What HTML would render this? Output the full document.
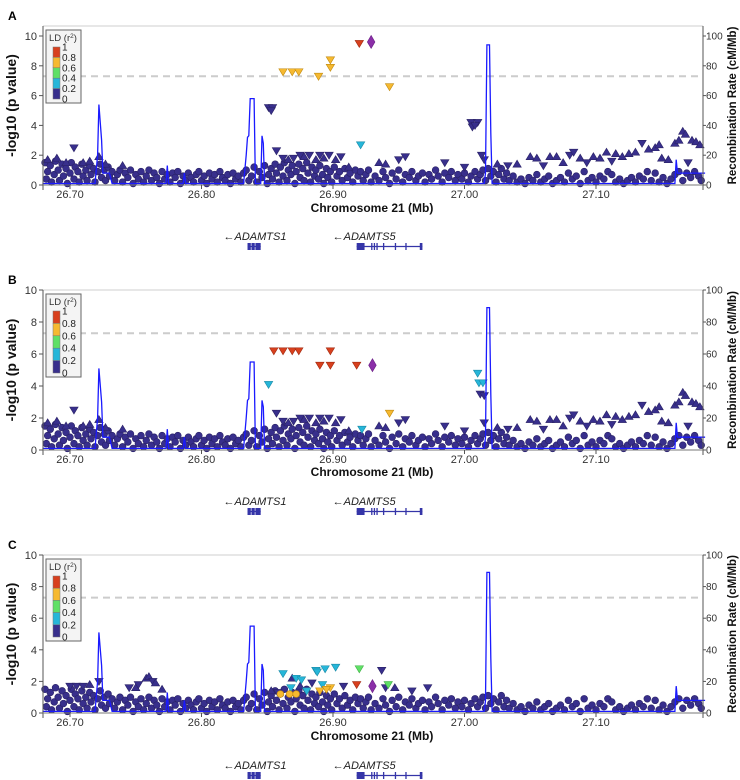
<!DOCTYPE html>
<html><head><meta charset="utf-8">
<style>
html,body{margin:0;padding:0;background:#fff;}
svg{display:block;font-family:"Liberation Sans",Arial,sans-serif;}
</style></head>
<body>
<svg id="fig" width="740" height="780" viewBox="0 0 740 780" xmlns="http://www.w3.org/2000/svg"></svg>
<script>
// ---------- DATA ----------
const xTicks = [26.70, 26.80, 26.90, 27.00, 27.10];
const xTickLabels = ["26.70", "26.80", "26.90", "27.00", "27.10"];
const yTicks = [0, 2, 4, 6, 8, 10];
const rTicks = [0, 20, 40, 60, 80, 100];
const ldLabels = ["1", "0.8", "0.6", "0.4", "0.2", "0"];
const panelLetters = ["A", "B", "C"];

// background circles [pos, -log10p]
const bgCircles = [[26.681,1.5],[26.682,0.4],[26.683,0.9],[26.685,1.3],[26.686,0.2],[26.688,0.7],[26.689,1.6],[26.691,1.0],[26.692,0.3],[26.694,1.4],[26.695,0.6],[26.697,1.1],[26.698,0.1],[26.700,0.8],[26.701,1.5],[26.703,0.4],[26.704,1.2],[26.706,0.9],[26.707,0.2],[26.709,1.4],[26.710,0.6],[26.712,1.0],[26.713,0.3],[26.715,1.3],[26.716,0.7],[26.718,1.1],[26.719,0.2],[26.721,0.9],[26.723,1.4],[26.724,0.5],[26.726,1.0],[26.727,0.3],[26.729,1.2],[26.730,0.6],
[26.732,0.9],[26.734,0.3],[26.736,0.7],[26.738,1.0],[26.740,0.2],[26.742,0.8],[26.744,0.5],[26.746,1.0],[26.748,0.1],[26.750,0.7],[26.752,0.4],[26.754,0.9],[26.756,0.2],[26.758,0.6],[26.760,1.0],[26.762,0.3],[26.764,0.8],[26.766,0.5],[26.768,0.1],[26.770,0.9],[26.772,0.4],[26.774,0.7],[26.776,0.2],[26.778,0.8],[26.780,0.5],[26.782,0.9],[26.784,0.1],[26.786,0.6],[26.788,0.3],[26.790,0.8],[26.792,0.5],[26.794,0.2],[26.796,0.7],[26.798,0.9],[26.800,0.3],[26.802,0.6],[26.804,0.1],[26.806,0.8],[26.808,0.4],[26.810,0.7],[26.812,0.2],[26.814,0.9],[26.816,0.5],[26.818,0.3],[26.820,0.7],[26.822,0.1],[26.824,0.8],[26.826,0.4],[26.828,0.6],[26.830,0.2],
[26.832,0.8],[26.834,1.0],[26.836,0.3],[26.838,0.6],[26.840,1.2],[26.842,0.2],[26.844,0.9],[26.846,0.5],[26.848,1.3],[26.850,0.1],[26.851,0.7],[26.853,1.1],[26.854,0.4],[26.856,1.4],[26.857,0.8],[26.859,0.2],[26.860,1.2],[26.862,0.6],[26.863,1.5],[26.865,0.3],[26.866,1.0],[26.868,0.7],[26.869,1.3],[26.871,0.1],[26.872,0.9],[26.874,1.4],[26.875,0.5],[26.877,1.1],[26.878,0.3],[26.880,1.5],[26.881,0.8],[26.883,0.2],[26.884,1.2],[26.886,0.6],[26.887,1.0],[26.889,0.4],[26.890,1.3],[26.892,0.7],[26.893,0.1],[26.895,1.1],[26.896,0.5],[26.898,0.9],[26.899,0.2],[26.901,1.2],[26.903,0.6],[26.905,0.9],[26.907,0.3],[26.909,1.1],[26.911,0.5],[26.913,0.8],[26.915,0.2],[26.917,1.0],[26.919,0.6],[26.921,0.9],[26.923,0.3],[26.925,0.7],[26.927,1.0],[26.929,0.2],
[26.932,0.6],[26.935,0.3],[26.938,0.9],[26.940,0.5],[26.943,0.1],[26.945,0.8],[26.948,0.4],[26.950,1.0],[26.953,0.2],[26.955,0.7],[26.958,0.5],[26.960,0.9],[26.963,0.3],[26.965,0.6],[26.968,0.8],[26.970,0.2],[26.973,0.7],[26.975,0.4],[26.978,1.0],[26.980,0.6],[26.983,0.2],[26.985,0.8],[26.988,0.5],[26.990,0.9],[26.993,0.3],[26.995,0.7],[26.998,0.4],[27.000,0.8],[27.003,0.2],[27.005,0.6],[27.008,0.9],[27.010,0.4],[27.012,0.7],[27.014,1.0],[27.016,0.3],[27.018,1.1],[27.020,0.6],[27.022,0.9],[27.024,0.2],[27.026,0.7],[27.028,1.1],[27.030,0.4],[27.032,0.8],[27.034,0.3],[27.037,0.6],[27.040,0.2],[27.043,0.4],[27.046,0.1],[27.049,0.5],[27.052,0.3],[27.055,0.7],[27.058,0.2],[27.061,0.4],[27.064,0.6],[27.067,0.1],[27.070,0.3],[27.073,0.5],[27.076,0.2],[27.079,0.8],[27.082,0.4],[27.085,0.6],[27.088,0.1],[27.091,0.9],[27.094,0.3],[27.097,0.5],[27.100,0.2],[27.103,0.6],[27.106,0.4],[27.109,0.9],[27.112,0.7],[27.115,0.2],[27.118,0.4],[27.121,0.1],[27.124,0.3],[27.127,0.5],[27.130,0.2],[27.133,0.6],[27.136,0.4],[27.139,0.9],[27.142,0.3],[27.145,0.8],[27.148,0.2],[27.151,0.5],[27.154,0.1],[27.157,0.4],[27.160,0.7],[27.163,0.9],[27.166,0.3],[27.169,0.8],[27.172,0.5],[27.175,0.9],[27.178,0.6],[27.180,0.3]];

// background triangles for panels A/B [pos, p, dir(1 up, -1 down)]
const triAB = [[26.683,1.7,1],[26.690,1.8,1],[26.697,1.5,1],[26.703,2.5,-1],[26.710,1.5,1],[26.715,1.6,1],[26.722,1.9,1],[26.727,1.4,1],[26.740,1.3,1],
[26.857,2.3,-1],[26.862,1.8,-1],[26.866,1.7,1],[26.870,1.8,-1],[26.875,2.0,-1],[26.878,1.9,1],[26.882,2.0,-1],[26.887,1.7,1],[26.890,2.0,-1],[26.893,1.8,1],[26.897,2.0,-1],[26.902,1.7,1],[26.906,1.9,-1],[26.912,1.2,1],
[26.935,1.5,1],[26.940,1.4,1],[26.950,1.7,-1],[26.955,1.9,-1],[26.985,1.5,-1],[27.000,1.2,-1],[27.015,1.7,-1],[27.025,1.4,1],[27.033,1.3,-1],[27.040,1.4,1],[27.050,1.9,1],[27.055,1.8,1],[27.060,1.3,-1],[27.065,1.9,1],[27.070,1.9,1],[27.075,1.5,1],[27.080,2.0,-1],[27.083,2.2,-1],[27.088,1.8,1],[27.093,1.5,-1],[27.098,1.9,1],[27.103,1.8,1],[27.108,2.2,1],[27.112,1.6,-1],[27.115,2.1,1],[27.120,1.9,1],[27.125,2.1,1],[27.130,2.2,1],[27.135,2.8,-1],[27.140,2.4,1],[27.145,2.5,1],[27.148,2.7,1],[27.150,1.8,1],[27.155,1.7,1],[27.160,2.8,1],[27.163,3.0,1],[27.166,3.6,1],[27.168,3.4,1],[27.170,1.5,-1],[27.173,3.0,1],[27.176,2.9,1],[27.179,2.7,1]];

const triC = [[26.700,1.7,-1],[26.705,1.7,-1],[26.710,1.7,-1],[26.715,1.8,1],[26.722,2.0,-1],[26.745,1.6,-1],[26.750,1.6,1],[26.752,1.8,-1],[26.758,2.2,1],[26.760,2.3,1],[26.763,2.0,-1],[26.765,1.9,1],[26.770,1.5,1],[26.853,1.4,1],[26.858,1.3,-1],
[26.908,1.7,-1],[26.937,2.7,-1],[26.940,1.6,-1],[26.947,1.6,1],[26.960,1.4,-1],[26.972,1.6,-1],[26.884,1.9,-1],[26.869,2.2,1],[26.875,1.7,1]];

// LD-coloured points [pos, p, shape, ldClass]
const hiA = [[26.851,5.2,"d",0],[26.854,5.2,"d",0],[26.853,5.0,"d",0],[27.005,4.2,"d",0],[27.010,4.2,"d",0],[27.006,3.9,"d",0],[27.008,4.0,"d",0],[27.013,2.0,"d",0],
[26.862,7.6,"d",3],[26.869,7.6,"d",3],[26.874,7.6,"d",3],[26.889,7.3,"d",3],[26.898,8.4,"d",3],[26.898,7.9,"d",3],[26.943,6.6,"d",3],[26.921,2.7,"d",1],[26.920,9.5,"d",4],[26.929,9.6,"x",5]];
const hiB = [[27.012,3.5,"d",0],[27.015,3.4,"d",0],[26.855,6.2,"d",4],[26.862,6.2,"d",4],[26.869,6.2,"d",4],[26.874,6.2,"d",4],[26.898,6.2,"d",4],[26.890,5.3,"d",4],[26.898,5.3,"d",4],[26.918,5.3,"d",4],
[26.851,4.1,"d",1],[27.010,4.8,"d",1],[27.011,4.2,"d",1],[27.014,4.2,"d",1],[26.922,1.3,"d",1],[26.943,2.3,"d",3],[26.930,5.3,"x",5]];
const hiC = [[26.862,2.5,"d",1],[26.872,2.2,"d",1],[26.876,2.1,"d",1],[26.887,2.7,"d",1],[26.888,2.6,"d",1],[26.894,2.8,"d",1],[26.902,2.9,"d",1],[26.868,1.6,"d",1],[26.880,1.4,"d",1],[26.892,1.8,"d",1],
[26.860,1.2,"c",3],[26.867,1.2,"c",3],[26.872,1.2,"c",3],[26.890,1.4,"d",3],[26.898,1.6,"d",3],[26.895,1.5,"d",3],[26.920,2.8,"d",2],[26.942,1.8,"d",2],[26.918,1.8,"d",4],[26.930,1.7,"x",5]];

// recombination rate (cM/Mb)
const recPos = [26.679,26.719,26.721,26.722,26.724,26.725,26.730,26.732,26.773,26.774,26.775,26.786,26.787,26.788,26.832,26.834,26.835,26.836,26.837,26.840,26.841,26.845,26.846,26.847,26.848,27.015,27.016,27.017,27.019,27.020,27.021,27.160,27.161,27.162,27.183];
const recRateA = [1,1,20,54,30,8,8,1,1,13,1,1,8,1,1,20,32,33,58,58,1,1,33,28,1,1,8,94,94,35,1,1,17,8,8];
const recRateB = [1,1,20,51,30,8,8,1,1,13,1,1,8,1,1,20,31,32,55,55,1,1,31,27,1,1,8,89,89,35,1,1,17,8,8];

const genes = [{name:"ADAMTS1", start:26.835, end:26.845, exons:[[26.835,26.8375],[26.838,26.8405],[26.841,26.845]]},
               {name:"ADAMTS5", start:26.918, end:26.968, exons:[[26.918,26.924],[26.929,26.930],[26.931,26.932],[26.933,26.934],[26.938,26.939],[26.947,26.948],[26.955,26.956],[26.966,26.968]]}];

// ---------- LAYOUT ----------
const panels = [
 {top:26, y10:36, y0:185, hi:hiA, tri:triAB, rec:recRateA, legH:73, xlabY:212, geneY:240},
 {top:290, y10:290, y0:450, hi:hiB, tri:triAB, rec:recRateB, legH:83, xlabY:476, geneY:505},
 {top:555, y10:555, y0:713, hi:hiC, tri:triC, rec:recRateB, legH:82, xlabY:740, geneY:769}
];
const X0=43, X1=703;
function xs(v){ return 70 + (v-26.70)*1315; }
const ldColors = ["#382f8c","#26b6d9","#5fe066","#f6b930","#d8401e","#8b2fa8"];
const ldStroke = ["#2a2266","#1a8aa6","#3fb045","#c08a10","#a02a10","#6a1f85"];
const NS="http://www.w3.org/2000/svg";
const svg=document.getElementById('fig');
function mk(tag, attrs, parent){ const e=document.createElementNS(NS,tag); for(const k in attrs) e.setAttribute(k,attrs[k]); (parent||svg).appendChild(e); return e; }

function marker(g, x, y, shape, ci, name){
  let e;
  if(shape==="c"){ e=mk('circle',{cx:x,cy:y,r:3.4,fill:ldColors[ci],stroke:ldStroke[ci],'stroke-width':0.6},g); }
  else if(shape==="u"){ e=mk('path',{d:`M${x},${y-4}L${x+4.2},${y+3}L${x-4.2},${y+3}Z`,fill:ldColors[ci],stroke:ldStroke[ci],'stroke-width':0.6},g); }
  else if(shape==="d"){ e=mk('path',{d:`M${x-4.2},${y-3}L${x+4.2},${y-3}L${x},${y+4}Z`,fill:ldColors[ci],stroke:ldStroke[ci],'stroke-width':0.6},g); }
  else { e=mk('path',{d:`M${x},${y-6.5}L${x+3.8},${y}L${x},${y+6.5}L${x-3.8},${y}Z`,fill:ldColors[ci],stroke:ldStroke[ci],'stroke-width':0.6},g); }
  
  
  return e;
}

panels.forEach((P,pi)=>{
  const ys = v => P.y0 - v*(P.y0-P.y10)/10;
  const rs = v => P.y0 - v*(P.y0-P.y10)/100;
  const g = mk('g',{});
  
  

  const lt = mk('text',{x:8,y:P.top-6,'font-size':12,'font-weight':'bold',fill:'#000'},g);
  lt.textContent=panelLetters[pi];
  
  

  const tb = mk('line',{x1:X0,y1:P.top,x2:X1,y2:P.top,stroke:'#cfcfcf','stroke-width':1},g);
  
  

  const gw = mk('line',{x1:X0,y1:ys(7.3),x2:X1,y2:ys(7.3),stroke:'#cccccc','stroke-width':2,'stroke-dasharray':'7,5'},g);
  
  

  const pg = mk('g',{},g);
  
  
  bgCircles.forEach(d=>{ marker(pg, xs(d[0]), ys(d[1]), "c", 0, 'snp-point'); });
  P.tri.forEach(d=>{ marker(pg, xs(d[0]), ys(d[1]), d[2]>0?"u":"d", 0, 'snp-triangle'); });

  let dstr = recPos.map((p,i)=>(i?'L':'M')+xs(p).toFixed(1)+','+rs(P.rec[i]).toFixed(1)).join('');
  const rl = mk('path',{d:dstr,fill:'none',stroke:'#1a1aff','stroke-width':1.3},g);
  
  

  P.hi.forEach(d=>{ marker(pg, xs(d[0]), ys(d[1]), d[2], d[3], d[2]==="x"?'lead-snp':'ld-snp'); });

  const la = mk('line',{x1:X0,y1:P.top,x2:X0,y2:P.y0+5,stroke:'#555','stroke-width':1},g);
  
  
  const ra = mk('line',{x1:X1,y1:P.top,x2:X1,y2:P.y0+5,stroke:'#555','stroke-width':1},g);
  
  
  const xa = mk('line',{x1:X0,y1:P.y0,x2:X1,y2:P.y0,stroke:'#777','stroke-width':1},g);
  
  

  yTicks.forEach(v=>{
    const y=ys(v);
    mk('line',{x1:X0-4,y1:y,x2:X0,y2:y,stroke:'#555'},g);
    const t=mk('text',{x:X0-6,y:y+4,'font-size':11,'text-anchor':'end',fill:'#333'},g);
    t.textContent=v;
    
    
  });
  rTicks.forEach(v=>{
    const y=rs(v);
    mk('line',{x1:X1,y1:y,x2:X1+3,y2:y,stroke:'#555'},g);
    const t=mk('text',{x:X1+3,y:y+3.5,'font-size':10,fill:'#333'},g);
    t.textContent=v;
    
    
  });
  xTicks.forEach((v,i)=>{
    const x=xs(v);
    mk('line',{x1:x,y1:P.y0,x2:x,y2:P.y0+4,stroke:'#555'},g);
    const t=mk('text',{x:x,y:P.y0+13,'font-size':11,'text-anchor':'middle',fill:'#333'},g);
    t.textContent=xTickLabels[i];
    
    
  });

  const yl = mk('text',{transform:`translate(16,${(P.top+P.y0)/2}) rotate(-90)`,'font-size':14,'font-weight':'bold','text-anchor':'middle',fill:'#111'},g);
  yl.textContent='-log10 (p value)';
  
  
  const rl2 = mk('text',{transform:`translate(736,${(P.top+P.y0)/2}) rotate(-90)`,'font-size':11.5,'font-weight':'bold','text-anchor':'middle',fill:'#111'},g);
  rl2.textContent='Recombination Rate (cM/Mb)';
  
  
  const xl = mk('text',{x:372,y:P.xlabY,'font-size':12,'font-weight':'bold','text-anchor':'middle',fill:'#111'},g);
  xl.textContent='Chromosome 21 (Mb)';
  
  

  const lg = mk('g',{},g);
  
  
  const ly=P.top+4;
  mk('rect',{x:46,y:ly,width:35,height:P.legH,fill:'#f4f4f4',stroke:'#666','stroke-width':1},lg);
  const lt2 = mk('text',{x:49,y:ly+11,'font-size':9.5,fill:'#333'},lg);
  lt2.innerHTML='LD (r<tspan font-size="6.5" dy="-3">2</tspan><tspan dy="3">)</tspan>';
  
  
  const barTop=ly+17, segH=(P.legH-21)/5;
  [4,3,2,1,0].forEach((ci,k)=>{
    const r=mk('rect',{x:53,y:barTop+k*segH,width:7,height:segH,fill:ldColors[ci],stroke:'#777','stroke-width':0.5},lg);
    
    
  });
  ldLabels.forEach((s,k)=>{
    const t=mk('text',{x:62,y:barTop+k*segH+3.5,'font-size':10,fill:'#222'},lg);
    t.textContent=s;
    
    
  });

  genes.forEach(G=>{
    const gg = mk('g',{},g);
    
    
    const t=mk('text',{x:xs(G.start)-24,y:P.geneY,'font-size':11,'font-style':'italic',fill:'#222'},gg);
    t.textContent='\u2190'+G.name;
    
    
    mk('line',{x1:xs(G.start),y1:P.geneY+6.5,x2:xs(G.end),y2:P.geneY+6.5,stroke:'#3535a8','stroke-width':1.2},gg);
    G.exons.forEach(e=>{
      const r=mk('rect',{x:xs(e[0]),y:P.geneY+3,width:Math.max(1.2,xs(e[1])-xs(e[0])),height:7,fill:'#3535a8'},gg);
      
      
    });
  });
});
</script>
</body></html>
